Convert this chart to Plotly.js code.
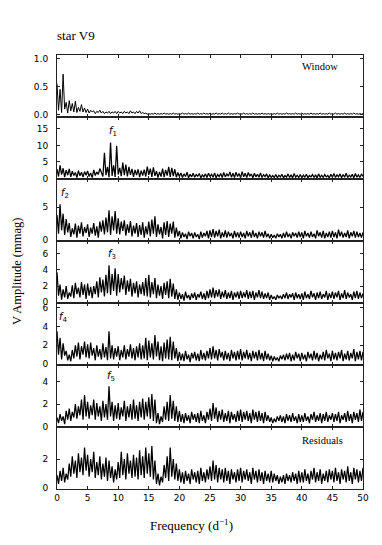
<!DOCTYPE html>
<html><head><meta charset="utf-8">
<script src="https://cdn.plot.ly/plotly-3.0.1.min.js"></script>
<style>html,body{margin:0;padding:0;background:#fff}</style>
</head><body><div id="chart" style="width:382px;height:545px"></div>
<script>
// Amplitude spectra, sampled every 0.25 d^-1 from 0 to 50 (rows of 20 = 5 d^-1)
const windowAmp = [
0.55,0.08,0.45,0.04,0.72,0.10,0.22,0.03,0.25,0.07,0.20,0.05,0.24,0.04,0.13,0.06,0.18,0.05,0.12,0.04,
0.10,0.03,0.08,0.05,0.07,0.02,0.06,0.04,0.08,0.03,0.06,0.02,0.05,0.03,0.06,0.02,0.05,0.03,0.06,0.02,
0.06,0.03,0.05,0.02,0.06,0.03,0.05,0.02,0.07,0.03,0.05,0.02,0.06,0.03,0.07,0.02,0.04,0.02,0.03,0.01,
0.02,0.01,0.02,0.01,0.03,0.01,0.02,0.01,0.02,0.01,0.03,0.01,0.02,0.01,0.02,0.01,0.03,0.01,0.02,0.01,
0.02,0.01,0.03,0.01,0.02,0.01,0.03,0.01,0.02,0.01,0.02,0.01,0.03,0.01,0.02,0.01,0.03,0.01,0.02,0.01,
0.03,0.01,0.02,0.01,0.03,0.01,0.02,0.01,0.03,0.01,0.02,0.01,0.03,0.01,0.02,0.01,0.02,0.01,0.03,0.01,
0.02,0.01,0.03,0.01,0.02,0.01,0.02,0.01,0.03,0.01,0.02,0.01,0.02,0.01,0.03,0.01,0.02,0.01,0.02,0.01,
0.02,0.01,0.02,0.01,0.03,0.01,0.02,0.01,0.02,0.01,0.03,0.01,0.02,0.01,0.02,0.01,0.03,0.01,0.02,0.01,
0.03,0.01,0.02,0.01,0.02,0.01,0.03,0.01,0.02,0.01,0.02,0.01,0.03,0.01,0.02,0.01,0.02,0.01,0.03,0.01,
0.02,0.01,0.03,0.01,0.02,0.01,0.02,0.01,0.03,0.01,0.02,0.01,0.02,0.01,0.03,0.01,0.02,0.01,0.02,0.01,
0.02];
const f1Amp = [
2.8,0.6,4.0,1.2,3.1,0.4,2.5,1.0,2.9,0.5,2.2,0.9,1.8,0.3,2.4,0.8,1.9,0.4,2.1,1.0,
2.3,0.6,1.7,0.3,2.6,0.9,2.0,1.2,3.0,1.5,0.6,7.8,1.0,3.5,0.4,10.9,0.8,4.0,0.5,9.9,
1.2,3.2,0.7,4.8,1.0,4.2,0.6,3.5,1.1,2.9,0.5,2.6,1.0,2.8,0.4,2.4,0.9,2.7,0.6,3.6,
1.1,3.0,0.5,3.4,0.8,2.2,0.3,2.0,0.6,3.0,0.4,2.6,0.9,3.5,0.5,3.2,0.7,2.8,0.4,1.8,
0.6,1.7,0.3,1.4,0.6,1.9,0.2,1.3,0.5,1.6,0.4,1.2,0.7,1.5,0.2,1.1,0.5,1.4,0.3,1.6,
0.6,1.3,0.4,1.7,0.2,1.2,0.6,1.5,0.3,1.8,0.5,1.4,0.7,2.0,0.4,1.6,0.3,1.9,0.6,1.5,
0.2,2.1,0.5,1.6,0.3,1.8,0.7,1.4,0.2,1.6,0.5,1.3,0.4,1.7,0.3,1.2,0.6,1.4,0.2,1.1,
0.4,0.9,0.3,1.2,0.2,1.0,0.5,1.3,0.2,0.9,0.4,1.4,0.3,1.1,0.2,1.5,0.4,1.0,0.3,1.2,
0.2,1.0,0.4,1.3,0.2,0.9,0.5,1.2,0.3,1.1,0.2,1.4,0.4,1.0,0.3,1.2,0.5,0.9,0.2,1.3,
0.4,1.5,0.3,1.1,0.5,1.4,0.2,1.2,0.4,1.6,0.3,1.0,0.5,1.3,0.2,1.5,0.4,1.1,0.3,1.4,
0.6];
const f2Amp = [
3.8,1.0,5.4,1.5,4.0,0.8,3.2,1.2,2.6,0.5,1.8,0.9,2.5,0.4,2.2,1.0,2.7,0.6,2.0,1.1,
2.4,0.5,1.9,1.0,2.6,0.7,2.1,0.4,2.8,1.3,3.0,0.9,3.4,1.2,4.5,0.8,3.6,1.5,4.4,1.0,
3.3,0.9,2.8,1.4,3.0,0.7,2.4,1.1,2.9,0.6,2.2,1.0,2.6,0.5,2.3,0.8,2.7,0.4,2.1,0.9,
2.8,0.6,3.1,1.0,3.6,0.5,2.4,0.9,2.0,0.3,2.7,0.8,2.9,0.5,2.5,1.0,2.8,0.4,1.9,0.6,
1.4,0.3,1.2,0.5,1.0,0.2,1.3,0.6,1.1,0.3,1.2,0.5,0.9,0.2,1.3,0.4,1.1,0.6,1.4,0.3,
1.5,0.5,1.7,0.4,1.4,0.6,1.6,0.3,1.2,0.5,1.5,0.4,1.3,0.6,1.1,0.3,1.4,0.5,1.2,0.4,
1.3,0.5,1.1,0.3,1.4,0.6,1.2,0.4,1.5,0.5,1.1,0.3,1.3,0.6,1.2,0.4,1.4,0.5,1.0,0.3,
0.9,0.4,0.8,0.3,1.0,0.5,0.9,0.3,1.1,0.4,1.3,0.5,1.0,0.3,1.2,0.6,1.1,0.4,1.3,0.5,
1.2,0.3,1.4,0.6,1.1,0.4,1.3,0.5,1.0,0.3,1.5,0.6,1.2,0.4,1.4,0.3,1.1,0.5,1.3,0.4,
1.4,0.5,1.2,0.3,1.6,0.6,1.3,0.4,1.1,0.5,1.5,0.3,1.2,0.6,1.4,0.4,1.3,0.5,1.1,0.4,
1.2];
const f3Amp = [
3.7,0.8,2.2,0.3,1.6,0.6,2.0,0.4,1.2,0.7,2.1,0.5,2.4,1.0,1.8,0.6,2.5,0.9,2.2,0.4,
2.3,0.8,1.9,0.5,2.0,1.0,2.6,0.6,3.1,1.2,2.8,0.7,3.4,1.1,4.6,0.9,3.5,1.4,4.2,0.8,
3.5,1.2,3.0,1.6,3.3,0.9,2.7,1.3,2.9,0.7,2.4,1.1,2.6,0.6,2.2,1.0,2.5,0.8,3.0,0.7,
3.4,0.6,2.5,1.0,3.0,0.5,2.2,0.8,2.0,0.4,2.4,0.9,2.6,0.5,2.9,0.7,2.3,0.4,1.6,0.3,
1.2,0.4,1.0,0.2,1.3,0.5,0.9,0.3,1.1,0.5,1.2,0.3,1.0,0.6,1.3,0.4,1.1,0.3,1.4,0.5,
1.6,0.6,1.8,0.5,1.5,0.7,1.6,0.4,1.3,0.6,1.5,0.4,1.2,0.5,1.4,0.3,1.2,0.6,1.3,0.4,
1.4,0.5,1.2,0.6,1.5,0.4,1.3,0.5,1.4,0.3,1.2,0.6,1.5,0.5,1.3,0.4,1.1,0.5,1.2,0.3,
0.9,0.4,0.7,0.3,0.9,0.5,0.8,0.4,1.0,0.5,1.2,0.4,1.0,0.6,1.1,0.3,1.2,0.5,1.0,0.4,
1.1,0.3,1.3,0.5,1.0,0.4,1.4,0.6,1.1,0.3,1.2,0.5,1.3,0.4,1.0,0.6,1.4,0.3,1.1,0.5,
1.3,0.4,1.2,0.6,1.4,0.3,1.1,0.5,1.5,0.4,1.2,0.6,1.0,0.3,1.3,0.5,1.4,0.4,1.2,0.5,
1.1];
const f4Amp = [
3.5,1.0,2.8,0.5,2.2,0.9,1.4,0.4,1.0,0.3,1.5,0.6,2.0,0.8,2.3,0.5,1.9,1.0,2.4,0.7,
2.1,0.6,2.3,0.9,1.7,0.4,2.0,0.8,1.6,0.5,2.2,0.7,1.8,0.4,3.5,0.6,2.0,0.5,1.7,0.8,
1.9,0.4,1.5,0.7,2.0,0.5,1.6,0.8,2.1,0.6,1.7,0.4,1.9,0.7,2.2,0.5,2.0,0.6,2.8,0.4,
2.5,0.7,2.2,0.5,3.1,0.8,2.4,0.4,1.9,0.3,2.3,0.6,2.6,0.5,2.9,0.4,2.4,0.6,1.7,0.3,
1.3,0.4,1.1,0.3,1.4,0.5,1.0,0.2,1.2,0.6,1.3,0.4,1.1,0.3,1.5,0.5,1.2,0.4,1.4,0.6,
1.7,0.5,1.9,0.6,1.5,0.4,1.6,0.7,1.3,0.4,1.4,0.5,1.2,0.3,1.5,0.6,1.3,0.4,1.4,0.5,
1.6,0.4,1.3,0.6,1.5,0.5,1.2,0.3,1.4,0.6,1.3,0.4,1.5,0.5,1.2,0.3,1.4,0.5,1.1,0.4,
0.9,0.3,0.8,0.4,0.7,0.3,0.9,0.5,1.0,0.4,1.1,0.5,1.2,0.3,1.0,0.4,1.3,0.6,1.1,0.3,
1.2,0.5,1.0,0.3,1.3,0.6,1.1,0.4,1.4,0.5,1.2,0.3,1.0,0.5,1.3,0.4,1.5,0.6,1.1,0.3,
1.4,0.5,1.2,0.4,1.3,0.6,1.5,0.3,1.1,0.5,1.4,0.4,1.2,0.6,1.6,0.3,1.3,0.5,1.4,0.4,
1.3];
const f5Amp = [
0.8,0.3,1.1,0.5,0.9,0.2,1.4,0.6,1.6,0.5,1.3,0.8,2.0,0.7,1.8,1.0,2.4,0.6,2.8,0.9,
2.2,0.7,1.9,1.0,2.4,0.6,2.1,0.9,1.8,0.5,2.3,0.8,2.0,0.6,3.6,0.9,2.2,0.5,1.9,0.7,
2.1,0.6,1.7,0.9,2.3,0.5,1.8,0.8,2.0,0.6,2.4,0.7,1.9,0.5,2.2,0.8,2.5,0.6,2.2,0.9,
2.6,0.7,2.9,0.5,2.4,0.3,1.2,0.2,0.9,0.4,1.8,0.6,2.2,0.5,2.8,0.7,2.3,0.5,1.8,0.4,
1.4,0.4,1.1,0.3,1.2,0.5,1.0,0.3,1.3,0.6,1.1,0.4,1.2,0.3,1.4,0.5,1.0,0.3,1.3,0.6,
1.6,0.5,2.1,0.7,1.7,0.4,1.4,0.6,1.5,0.4,1.2,0.5,1.4,0.3,1.3,0.6,1.1,0.4,1.4,0.5,
1.5,0.4,1.3,0.6,1.4,0.5,1.2,0.3,1.5,0.6,1.3,0.4,1.4,0.5,1.2,0.3,1.3,0.5,1.0,0.4,
0.8,0.3,0.7,0.4,0.9,0.5,1.0,0.4,0.9,0.3,1.1,0.5,1.0,0.4,1.2,0.5,0.9,0.3,1.1,0.4,
1.0,0.4,1.2,0.5,0.9,0.3,1.1,0.6,1.3,0.4,1.0,0.5,1.2,0.3,1.1,0.5,1.3,0.4,1.0,0.6,
1.2,0.4,1.1,0.5,1.3,0.3,1.0,0.6,1.2,0.4,1.4,0.5,1.1,0.3,1.3,0.6,1.2,0.4,1.5,0.5,
1.3];
const residualAmp = [
0.9,0.3,1.2,0.5,1.4,0.4,1.0,0.6,1.7,0.8,2.2,1.0,1.9,0.7,2.4,1.1,2.1,0.9,2.8,1.2,
2.3,0.8,2.0,1.1,2.5,0.7,1.8,0.9,2.2,0.6,1.7,0.8,2.1,0.5,1.9,0.7,1.5,0.4,1.3,0.6,
1.8,0.7,2.5,0.9,2.0,0.6,2.4,1.0,1.9,0.7,2.3,0.8,2.1,0.6,2.6,0.9,2.2,0.7,2.8,1.0,
2.4,0.8,2.9,0.6,1.9,0.3,1.0,0.2,0.8,0.4,1.6,0.7,2.2,0.5,2.8,0.8,2.0,0.6,1.7,0.5,
1.3,0.4,1.1,0.3,1.2,0.5,1.0,0.3,1.3,0.6,1.1,0.4,1.2,0.3,1.4,0.5,1.1,0.4,1.3,0.6,
1.5,0.5,1.9,0.6,1.6,0.4,1.4,0.6,1.3,0.4,1.4,0.5,1.2,0.3,1.3,0.6,1.1,0.4,1.3,0.5,
1.4,0.4,1.2,0.6,1.3,0.5,1.1,0.3,1.4,0.6,1.2,0.4,1.3,0.5,1.1,0.3,1.2,0.5,1.0,0.4,
1.2,0.4,1.0,0.5,0.9,0.3,0.8,0.4,0.9,0.3,1.0,0.5,0.9,0.4,1.1,0.5,1.0,0.3,1.2,0.4,
1.1,0.4,1.3,0.5,1.0,0.3,1.2,0.6,1.4,0.4,1.1,0.5,1.3,0.3,1.0,0.5,1.2,0.4,1.3,0.6,
1.2,0.4,1.4,0.5,1.1,0.3,1.3,0.6,1.2,0.4,1.5,0.5,1.1,0.3,1.4,0.6,1.3,0.4,1.2,0.5,
1.4];

const freqStep = 0.25;
const series = [windowAmp, f1Amp, f2Amp, f3Amp, f4Amp, f5Amp, residualAmp];
const yTickVals = [[0, 0.5, 1.0], [0, 5, 10, 15], [0, 5], [0, 2, 4, 6], [0, 2, 4, 6], [0, 2, 4], [0, 2]];
const xTickVals = [0, 5, 10, 15, 20, 25, 30, 35, 40, 45, 50];
const peakLabels = ['<i>f</i><sub>1</sub>', '<i>f</i><sub>2</sub>', '<i>f</i><sub>3</sub>', '<i>f</i><sub>4</sub>', '<i>f</i><sub>5</sub>'];
const peakLabelPos = [[9.2, 14.2], [1.3, 7.0], [9.0, 5.9], [1.0, 4.95], [8.9, 4.5]];

const yRanges = [[-0.04, 1.06], [-0.15, 18.6], [-0.1, 9.2], [-0.1, 7.6], [-0.1, 6.5], [-0.05, 5.5], [-0.05, 4.2]];
const n = series.length;
const traces = [];
const layout = {
  width: 382, height: 545,
  margin: {l: 57, r: 19, t: 55, b: 56},
  paper_bgcolor: '#fff', plot_bgcolor: '#fff',
  showlegend: false,
  font: {family: 'DejaVu Sans', size: 9, color: '#000'},
  title: {text: 'star V9', x: 0, xref: 'paper', xanchor: 'left', y: 1 - 35/545, yref: 'container', yanchor: 'middle',
          font: {family: 'Liberation Serif', size: 13, color: '#000'}},
  annotations: []
};
series.forEach((vals, k) => {
  const sfx = k === 0 ? '' : String(k + 1);
  const freq = vals.map((_, i) => i * freqStep);
  traces.push({x: freq, y: vals, type: 'scatter', mode: 'lines', xaxis: 'x' + sfx, yaxis: 'y' + sfx,
               line: {color: '#000', width: k === 0 ? 1.0 : 1.25}, hoverinfo: 'skip'});
  const top = 1 - k / n, bot = 1 - (k + 1) / n;
  layout['xaxis' + sfx] = {
    anchor: 'y' + sfx, domain: [0, 1], range: [0, 50], tickvals: xTickVals, ticks: 'inside', ticklen: 3,
    tickcolor: '#222', mirror: 'allticks', showline: true, linecolor: '#222', linewidth: 1,
    showgrid: false, zeroline: false, showticklabels: k === n - 1,
    tickfont: {family: 'DejaVu Sans', size: 9, color: '#000'}
  };
  layout['yaxis' + sfx] = {
    anchor: 'x' + sfx, domain: [bot, top], range: yRanges[k], tickvals: yTickVals[k],
    tickformat: k === 0 ? '.1f' : 'd', ticks: 'inside', ticklen: 3, tickcolor: '#222',
    mirror: 'allticks', showline: true, linecolor: '#222', linewidth: 1,
    showgrid: false, zeroline: false, ticklabelstandoff: 6,
    tickfont: {family: 'DejaVu Sans', size: 9, color: '#000'}
  };
  if (k >= 1 && k <= 5) {
    layout.annotations.push({text: peakLabels[k - 1], x: peakLabelPos[k - 1][0], y: peakLabelPos[k - 1][1],
      xref: 'x' + sfx, yref: 'y' + sfx, showarrow: false, font: {family: 'DejaVu Sans', size: 10, color: '#000'}});
  }
});
layout.annotations.push({text: 'Window', x: 42.9, y: 0.86, xref: 'x', yref: 'y', showarrow: false,
  font: {family: 'Liberation Serif', size: 10.5, color: '#000'}});
layout.annotations.push({text: 'Residuals', x: 43.3, y: 3.29, xref: 'x7', yref: 'y7', showarrow: false,
  font: {family: 'Liberation Serif', size: 10.5, color: '#000'}});
layout.annotations.push({text: 'V Amplitude (mmag)', textangle: -90, x: (17 - 57) / 306, y: 0.5,
  xref: 'paper', yref: 'paper', xanchor: 'center', yanchor: 'middle', showarrow: false,
  font: {family: 'Liberation Serif', size: 12.5, color: '#000'}});
layout.annotations.push({text: 'Frequency (d<sup>\u22121</sup>)', x: (191 - 57) / 306, y: -(525 - 489) / 434,
  xref: 'paper', yref: 'paper', xanchor: 'center', yanchor: 'middle', showarrow: false,
  font: {family: 'Liberation Serif', size: 13, color: '#000'}});

Plotly.newPlot('chart', traces, layout, {displayModeBar: false, staticPlot: true});
</script>
</body></html>
